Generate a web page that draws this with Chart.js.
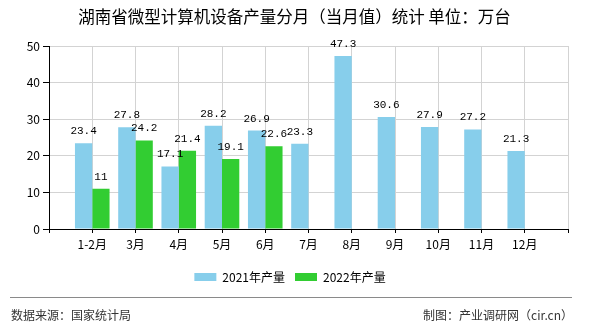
<!DOCTYPE html>
<html>
<head>
<meta charset="utf-8">
<script src="https://cdn.jsdelivr.net/npm/chart.js@4"></script>
<style>
  html, body { margin: 0; padding: 0; background: #fff; }
  #wrap { position: relative; width: 590px; height: 330px; }
</style>
</head>
<body>
<div id="wrap"><canvas id="c" width="590" height="330"></canvas></div>
<script>
const months = ['1-2月', '3月', '4月', '5月', '6月', '7月', '8月', '9月', '10月', '11月', '12月'];
const output2021 = [23.4, 27.8, 17.1, 28.2, 26.9, 23.3, 47.3, 30.6, 27.9, 27.2, 21.3];
const output2022 = [11, 24.2, 21.4, 19.1, 22.6, null, null, null, null, null, null];
const seriesNames = ['2021年产量', '2022年产量'];
const yTicks = [0, 10, 20, 30, 40, 50];
const titleText = '湖南省微型计算机设备产量分月（当月值）统计 单位：万台';
const sourceText = '数据来源：国家统计局';
const creditText = '制图：产业调研网（cir.cn）';

// pad one empty slot at each end so that the axis spans a full category beyond first/last
const labels = [''].concat(months, ['']);
const pad = arr => [null].concat(arr, [null]);

const CJK = '"Noto Sans CJK SC", "Noto Sans", sans-serif';

const valueLabels = {
  id: 'valueLabels',
  afterDatasetsDraw(chart) {
    const ctx = chart.ctx;
    ctx.save();
    ctx.font = '11px "Liberation Mono", "DejaVu Sans Mono", monospace';
    ctx.fillStyle = '#000';
    ctx.textAlign = 'center';
    ctx.textBaseline = 'alphabetic';
    chart.data.datasets.forEach((ds, i) => {
      const meta = chart.getDatasetMeta(i);
      meta.data.forEach((el, j) => {
        const v = ds.data[j];
        if (v === null || v === undefined) return;
        ctx.fillText(String(v), el.x, el.y - 9);
      });
    });
    ctx.restore();
  }
};

const decorations = {
  id: 'decorations',
  afterDraw(chart) {
    const ctx = chart.ctx;
    ctx.save();
    // title
    ctx.font = '16.5px ' + CJK;
    ctx.fillStyle = '#000';
    ctx.textAlign = 'center';
    ctx.textBaseline = 'middle';
    ctx.fillText(titleText, 294.5, 17);
    // footer
    ctx.strokeStyle = '#8a8a8a';
    ctx.lineWidth = 1;
    ctx.beginPath();
    ctx.moveTo(10, 297.5);
    ctx.lineTo(572, 297.5);
    ctx.stroke();
    ctx.font = '12px ' + CJK;
    ctx.fillStyle = '#333';
    ctx.textAlign = 'left';
    ctx.fillText(sourceText, 11, 315);
    ctx.textAlign = 'right';
    ctx.fillText(creditText, 573, 315);
    ctx.restore();
  }
};

new Chart(document.getElementById('c'), {
  type: 'bar',
  data: {
    labels: labels,
    datasets: [
      { label: seriesNames[0], data: pad(output2021), backgroundColor: '#87CEEB', borderWidth: 0 },
      { label: seriesNames[1], data: pad(output2022), backgroundColor: '#32CD32', borderWidth: 0 }
    ]
  },
  options: {
    responsive: false,
    animation: false,
    devicePixelRatio: 1,
    layout: { padding: { left: 12, right: 22, top: 46, bottom: 37 } },
    datasets: { bar: { categoryPercentage: 0.8, barPercentage: 1.0 } },
    plugins: {
      tooltip: { enabled: false },
      title: { display: false },
      legend: {
        position: 'bottom',
        labels: {
          boxWidth: 22,
          boxHeight: 8,
          color: '#000',
          padding: 10,
          font: { family: CJK, size: 12 }
        }
      }
    },
    scales: {
      x: {
        offset: false,
        grid: { color: '#d3d3d3', tickColor: '#000', tickLength: 4, offset: false },
        border: { color: '#000', width: 1 },
        ticks: { autoSkip: false, maxRotation: 0, color: '#000', padding: 4, font: { family: CJK, size: 12 } },
        afterFit(scale) { scale.height = 32; }
      },
      y: {
        min: 0,
        max: 50,
        afterBuildTicks(scale) { scale.ticks = yTicks.map(v => ({ value: v })); },
        grid: { color: '#d3d3d3', tickColor: '#000', tickLength: 6 },
        border: { color: '#000', width: 1 },
        ticks: { color: '#000', padding: 3, font: { family: CJK, size: 12 } },
        afterFit(scale) { scale.width = 37; }
      }
    }
  },
  plugins: [valueLabels, decorations]
});
</script>
</body>
</html>
